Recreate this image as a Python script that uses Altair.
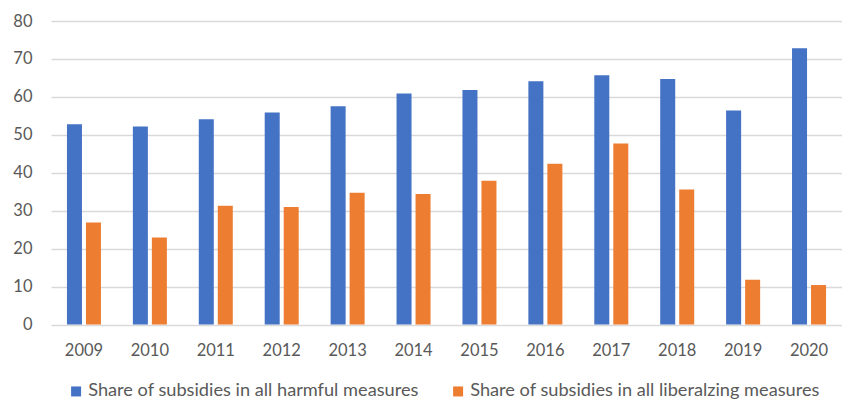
import altair as alt
import pandas as pd

years = ["2009", "2010", "2011", "2012", "2013", "2014", "2015", "2016", "2017", "2018", "2019", "2020"]
harmful = [52.8, 52.2, 54.1, 55.9, 57.5, 60.9, 61.8, 64.1, 65.7, 64.7, 56.4, 72.8]
liberalizing = [26.9, 22.9, 31.3, 31.0, 34.7, 34.4, 37.9, 42.4, 47.7, 35.6, 11.8, 10.4]
series_names = ["Share of subsidies in all harmful measures",
                "Share of subsidies in all liberalzing measures"]
colors = ["#4472C4", "#ED7D31"]

rows = []
for y, h, l in zip(years, harmful, liberalizing):
    rows.append({"year": y, "series": series_names[0], "value": h})
    rows.append({"year": y, "series": series_names[1], "value": l})
df = pd.DataFrame(rows)

font = "Lato"
label_color = "#595959"

chart = alt.Chart(df).mark_bar().encode(
    x=alt.X("year:N", sort=years,
            scale=alt.Scale(paddingInner=0.484, paddingOuter=0.242),
            axis=alt.Axis(title=None, labelAngle=0, domain=False, ticks=False,
                          labelPadding=18, labelFont=font, labelFontSize=16.5,
                          labelColor=label_color)),
    xOffset=alt.XOffset("series:N", sort=series_names,
                        scale=alt.Scale(paddingInner=0.21, paddingOuter=0)),
    y=alt.Y("value:Q",
            scale=alt.Scale(domain=[0, 80], nice=False),
            axis=alt.Axis(title=None, values=list(range(0, 90, 10)), domain=False, ticks=False,
                          labelPadding=19, labelFont=font, labelFontSize=16.5,
                          labelColor=label_color, gridColor="#D9D9D9", gridWidth=1.3)),
    color=alt.Color("series:N", sort=series_names,
                    scale=alt.Scale(domain=series_names, range=colors),
                    legend=alt.Legend(title=None, orient="none", direction="horizontal",
                                      legendX=16, legendY=361, symbolType="square",
                                      symbolSize=100, symbolStrokeWidth=0,
                                      labelFont=font, labelFontSize=18.2, labelColor=label_color,
                                      labelLimit=0, labelOffset=3, columnPadding=30, padding=0)),
).properties(
    width=791,
    height=303.5,
    autosize=alt.AutoSizeParams(type="none"),
    padding={"left": 51, "top": 21, "right": 0, "bottom": 78.5},
).configure_view(stroke=None)

chart.save("out.html", embed_options={"renderer": "svg", "actions": False})
